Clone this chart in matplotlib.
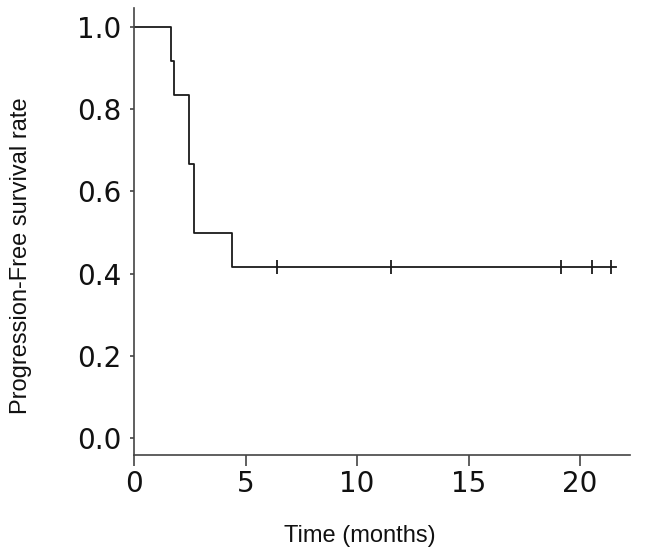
import numpy as np
import matplotlib
matplotlib.use("Agg")
import matplotlib.pyplot as plt

# Data (months)
event_times = [1.66, 1.79, 2.45, 2.45, 2.70, 2.70, 4.40]
censor_times = [6.40, 11.50, 19.15, 20.52, 21.39]
follow_up_end = 21.6
x_ticks = [0, 5, 10, 15, 20]
y_ticks = [0.0, 0.2, 0.4, 0.6, 0.8, 1.0]

# Kaplan-Meier estimate
uniq = sorted(set(event_times))
surv = 1.0
step_x = [0.0]
step_y = [1.0]
all_times = np.array(event_times + censor_times)
for t in uniq:
    at_risk = np.sum(all_times >= t)
    d = event_times.count(t)
    surv *= (1 - d / at_risk)
    step_x.append(t)
    step_y.append(surv)
step_x.append(follow_up_end)
step_y.append(step_y[-1])

def surv_at(t):
    s = 1.0
    for xx, yy in zip(step_x, step_y):
        if xx <= t:
            s = yy
    return s

fig = plt.figure(figsize=(6.57, 5.58), dpi=100)
ax = fig.add_axes([0.204, 0.185, 0.755, 0.80])

ax.step(step_x, step_y, where="post", color="#1a1a1a", lw=1.3)
ax.plot(censor_times, [surv_at(t) for t in censor_times], ls="none",
        marker="|", ms=10, mew=1.3, color="#1a1a1a")

ax.set_xlim(0, 22.24)
ax.set_ylim(-0.04, 1.045)
ax.set_xticks(x_ticks)
ax.set_yticks(y_ticks)
ax.set_yticklabels([f"{v:.1f}" for v in y_ticks])
ax.tick_params(axis="x", length=8, width=1.2, color="#444444", labelsize=20, pad=3)
ax.tick_params(axis="y", length=3, width=1.2, color="#444444", labelsize=20, pad=6)
for lab in ax.get_xticklabels() + ax.get_yticklabels():
    lab.set_family("DejaVu Sans")
    lab.set_color("#111111")

for s in ["top", "right"]:
    ax.spines[s].set_visible(False)
for s in ["left", "bottom"]:
    ax.spines[s].set_color("#444444")
    ax.spines[s].set_linewidth(1.2)

ax.set_xlabel("Time (months)", family="Liberation Sans", fontsize=17, color="#111111")
ax.set_ylabel("Progression-Free survival rate", family="Liberation Sans", fontsize=17, color="#111111")
ax.xaxis.set_label_coords(0.456, -0.157)
ax.yaxis.set_label_coords(-0.205, 0.447)

fig.savefig("out.png", dpi=100)
